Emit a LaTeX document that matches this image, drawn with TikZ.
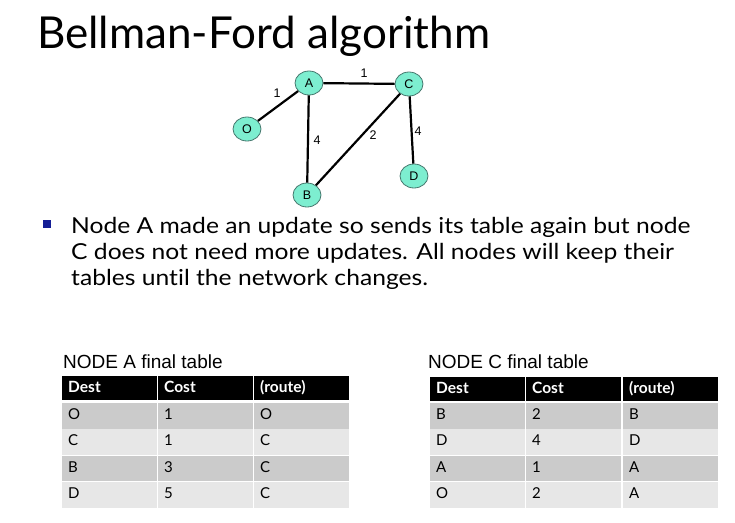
\documentclass[tikz,border=0pt]{standalone}
\usepackage{fontspec}
\setmainfont{Lato}[Ligatures=NoCommon]
\newfontfamily\bulf{Lato}[Ligatures=NoCommon, FakeStretch=1.12]
\newfontfamily\arialf{Liberation Sans}
\definecolor{gnode}{RGB}{125,238,208}
\definecolor{gborder}{RGB}{70,120,110}
\definecolor{rowdark}{RGB}{203,203,203}
\definecolor{rowlight}{RGB}{231,231,231}
\definecolor{bulblue}{RGB}{20,30,150}
\usetikzlibrary{shapes.geometric}
\tikzset{
  gn/.style={ellipse, draw=gborder, line width=0.8pt, fill=gnode, minimum width=28, minimum height=24, inner sep=0pt, font=\arialf\fontsize{12.5}{12.5}\selectfont},
  edge/.style={line width=2.2pt, black},
  elab/.style={font=\arialf\fontsize{12.5}{12.5}\selectfont, inner sep=0pt},
  cell/.style={anchor=north west, inner xsep=6, inner ysep=0, align=left, text height=11, text depth=3, font=\fontsize{15}{15}\selectfont},
  hdr/.style={cell, fill=black, text=white, font=\bfseries\fontsize{15.5}{15.5}\selectfont, minimum height=24},
  dark/.style={cell, fill=rowdark, minimum height=25.5},
  light/.style={cell, fill=rowlight, minimum height=25.5},
  ttl/.style={anchor=base west, inner sep=0, font=\arialf\fontsize{19}{19}\selectfont},
  btxt/.style={anchor=base west, inner sep=0, font=\bulf\fontsize{22}{22}\selectfont}
}
\begin{document}
\begin{tikzpicture}[x=1pt,y=-1pt]
\useasboundingbox (0,0) rectangle (735,522);
% title
\node[anchor=base west, inner sep=0, font=\fontsize{44}{44}\selectfont] (title) at (37,48) {Bellman-Ford algorithm};
% graph
\node[gn] (A) at (309,83) {A};
\node[gn] (C) at (409,84) {C};
\node[gn] (O) at (247,129) {O};
\node[gn] (B) at (307,195) {B};
\node[gn] (D) at (414,176) {D};
\draw[edge] (O) -- (A);
\draw[edge] (A) -- (C);
\draw[edge] (A) -- (B);
\draw[edge] (C) -- (B);
\draw[edge] (C) -- (D);
\node[elab] (l1) at (277,93) {1};
\node[elab] (l2) at (364,73) {1};
\node[elab] (l3) at (317,140) {4};
\node[elab] (l4) at (373,135) {2};
\node[elab] (l5) at (418,131) {4};
% bullet
\node[fill=bulblue, minimum size=8, inner sep=0] (bul) at (47,224) {};
\node[btxt] (t1) at (71,233) {Node A made an update so sends its table again but node};
\node[btxt] (t2) at (71,259) {C does not need more updates. All nodes will keep their};
\node[btxt] (t3) at (71,285) {tables until the network changes.};
% table A
\node[ttl] (ta) at (63,368) {NODE A final table};
\node[hdr, text width=83] (a01) at (62,376) {Dest};
\node[hdr, text width=83] (a02) at (158,376) {Cost};
\node[hdr, text width=83] (a03) at (254,376) {(route)};
\node[dark, text width=83] (a11) at (62,403) {O};
\node[dark, text width=83] (a12) at (158,403) {1};
\node[dark, text width=83] (a13) at (254,403) {O};
\node[light, text width=83] (a21) at (62,429) {C};
\node[light, text width=83] (a22) at (158,429) {1};
\node[light, text width=83] (a23) at (254,429) {C};
\node[dark, text width=83] (a31) at (62,455.5) {B};
\node[dark, text width=83] (a32) at (158,455.5) {3};
\node[dark, text width=83] (a33) at (254,455.5) {C};
\node[light, text width=83] (a41) at (62,482) {D};
\node[light, text width=83] (a42) at (158,482) {5};
\node[light, text width=83] (a43) at (254,482) {C};
% table C
\node[ttl] (tc) at (428,368) {NODE C final table};
\node[hdr, text width=83] (c01) at (430,377) {Dest};
\node[hdr, text width=83] (c02) at (526,377) {Cost};
\node[hdr, text width=83] (c03) at (623,377) {(route)};
\node[dark, text width=83] (c11) at (430,403) {B};
\node[dark, text width=83] (c12) at (526,403) {2};
\node[dark, text width=83] (c13) at (623,403) {B};
\node[light, text width=83] (c21) at (430,429) {D};
\node[light, text width=83] (c22) at (526,429) {4};
\node[light, text width=83] (c23) at (623,429) {D};
\node[dark, text width=83] (c31) at (430,455.5) {A};
\node[dark, text width=83] (c32) at (526,455.5) {1};
\node[dark, text width=83] (c33) at (623,455.5) {A};
\node[light, text width=83] (c41) at (430,482) {O};
\node[light, text width=83] (c42) at (526,482) {2};
\node[light, text width=83] (c43) at (623,482) {A};
\end{tikzpicture}
\end{document}
